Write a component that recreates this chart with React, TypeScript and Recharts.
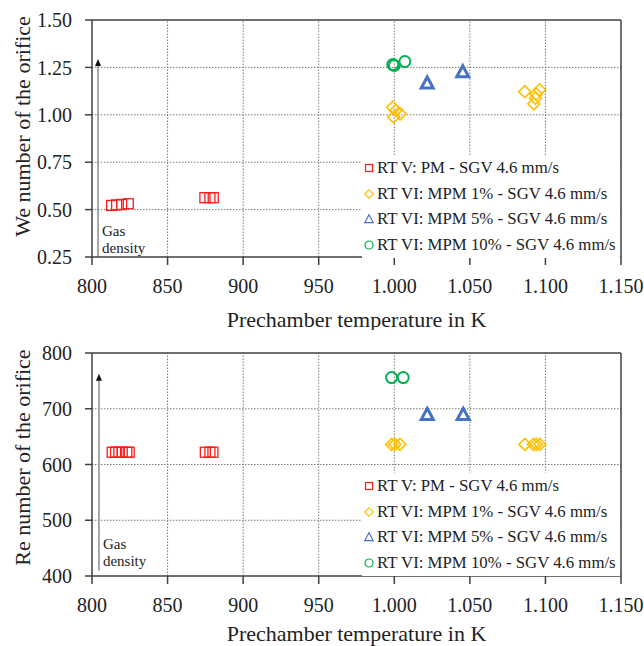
import React from "react";
import {
  Label,
  Legend,
  ReferenceLine,
  Scatter,
  ScatterChart,
  XAxis,
  YAxis,
} from "recharts";

// Prechamber temperature (K) and dimensionless numbers.
const tempTicks = [800, 850, 900, 950, 1000, 1050, 1100, 1150];
const weTicks = [0.25, 0.5, 0.75, 1.0, 1.25, 1.5];
const reTicks = [400, 500, 600, 700, 800];

// We number (top panel)
const weRtVT = [813, 816.3, 819.6, 824, 874.7, 878, 880.2];
const weRtV = [0.522, 0.525, 0.527, 0.531, 0.563, 0.563, 0.563];
const weMpm1T = [998.9, 1001, 1003.9, 999.6, 1086.3, 1096.1, 1093.9, 1093.4, 1092.3];
const weMpm1 = [1.04, 1.023, 1.005, 0.988, 1.122, 1.132, 1.11, 1.087, 1.058];
const weMpm5T = [1021.8, 1045.3];
const weMpm5 = [1.168, 1.227];
const weMpm10T = [999, 1000, 1007];
const weMpm10 = [1.265, 1.26, 1.281];

// Re number (bottom panel)
const reRtVT = [813.4, 815.6, 817.8, 820, 823, 824.6, 875, 878, 880];
const reRtV = [622, 622, 622, 622, 622, 622, 622, 622, 622];
const reMpm1T = [998.2, 1000.4, 1003.7, 1086.4, 1092, 1094, 1096.3];
const reMpm1 = [636, 636, 636, 636, 636, 636, 636];
const reMpm5T = [1021.8, 1045.6];
const reMpm5 = [690, 690];
const reMpm10T = [998.2, 1005.9];
const reMpm10 = [756, 756];

const seriesNames = [
  "RT V: PM - SGV 4.6 mm/s",
  "RT VI: MPM 1% - SGV 4.6 mm/s",
  "RT VI: MPM 5% - SGV 4.6 mm/s",
  "RT VI: MPM 10% - SGV 4.6 mm/s",
];
const seriesColors = ["#ff1a1a", "#ffc000", "#4472c4", "#00b050"];
const markerKinds = ["square", "diamond", "triangle", "circle"];

const zip = (xs: number[], ys: number[]) => xs.map((x, i) => ({ x, y: ys[i] }));

const FONT = "'Liberation Serif', 'Times New Roman', serif";
const AXIS = "#404040";
const TEXT = "#222";
const GRID = "#7a7a7a";

const fmtTemp = (v: number) =>
  v >= 1000 ? `${Math.floor(v / 1000)}.${String(v % 1000).padStart(3, "0")}` : String(v);

function Marker({ kind, cx, cy, color, small }: any) {
  const s = small ? 0.7 : 1;
  if (kind === "square") {
    const h = 5 * s;
    return <rect x={cx - h} y={cy - h} width={2 * h} height={2 * h} fill="none" stroke={color} strokeWidth={small ? 1.2 : 1.3} />;
  }
  if (kind === "diamond") {
    const h = 6 * s;
    return (
      <polygon
        points={`${cx},${cy - h} ${cx + h},${cy} ${cx},${cy + h} ${cx - h},${cy}`}
        fill="none"
        stroke={color}
        strokeWidth={small ? 1.2 : 1.6}
      />
    );
  }
  if (kind === "triangle") {
    const h = 6 * s;
    return (
      <polygon
        points={`${cx},${cy - h} ${cx + h},${cy + h * 0.85} ${cx - h},${cy + h * 0.85}`}
        fill="none"
        stroke={color}
        strokeWidth={small ? 1.2 : 3}
      />
    );
  }
  return <circle cx={cx} cy={cy} r={small ? 4 : 5.5} fill="none" stroke={color} strokeWidth={small ? 1.2 : 2} />;
}

function LegendBox() {
  return (
    <div style={{ background: "#fff", fontFamily: FONT, fontSize: 16.8, color: TEXT }}>
      {seriesNames.map((n, i) => (
        <div key={n} style={{ display: "flex", alignItems: "center", height: 25.7, whiteSpace: "nowrap" }}>
          <svg width={14} height={14} style={{ marginRight: 1 }}>
            <Marker kind={markerKinds[i]} cx={7} cy={7} color={seriesColors[i]} small />
          </svg>
          <span>{n}</span>
        </div>
      ))}
    </div>
  );
}

// vertical "Gas density" arrow drawn through a reference segment
function GasArrow(props: any) {
  const { x1, y1, y2 } = props;
  const bottom = Math.max(y1, y2);
  const top = Math.min(y1, y2);
  return (
    <g>
      <line x1={x1} y1={bottom} x2={x1} y2={top + 6} stroke="#8c8c8c" strokeWidth={1.5} />
      <polygon points={`${x1},${top} ${x1 + 3},${top + 7} ${x1 - 3},${top + 7}`} fill="#111" />
      <text x={x1 + 4} y={bottom - 21} fontSize={15} fill={TEXT}>
        Gas
      </text>
      <text x={x1 + 4} y={bottom - 4} fontSize={15} fill={TEXT}>
        density
      </text>
    </g>
  );
}

// dotted grid line drawn by a reference line
function GridLine(props: any) {
  const { x1, y1, x2, y2 } = props;
  return <line x1={x1} y1={y1} x2={x2} y2={y2} stroke={GRID} strokeWidth={1} strokeDasharray="1.5 1.5" />;
}

function YTitle({ viewBox, value, shift }: any) {
  const cy = viewBox.y + viewBox.height / 2 + shift;
  return (
    <text
      x={22}
      y={cy}
      transform={`rotate(-90 22 ${cy})`}
      textAnchor="middle"
      dominantBaseline="central"
      fontSize={22}
      fill={TEXT}
    >
      {value}
    </text>
  );
}

function Panel({
  height,
  top,
  xHeight,
  yDomain,
  yTicks,
  yFormat,
  yTitle,
  yShift,
  xOffset,
  series,
  arrow,
  legendTop,
}: any) {
  return (
    <ScatterChart
      width={644}
      height={height}
      margin={{ top, right: 23, bottom: 0, left: 0 }}
    >
      <XAxis
        type="number"
        dataKey="x"
        domain={[800, 1150]}
        ticks={tempTicks}
        tickFormatter={fmtTemp}
        height={xHeight}
        stroke={AXIS}
        strokeWidth={1.5}
        tickSize={8}
        tickMargin={14}
        tick={{ fill: TEXT, fontSize: 20 }}
        allowDataOverflow
      >
        <Label value="Prechamber temperature in K" position="insideBottom" offset={xOffset} fontSize={22} fill={TEXT} />
      </XAxis>
      <YAxis
        type="number"
        dataKey="y"
        domain={yDomain}
        ticks={yTicks}
        tickFormatter={yFormat}
        width={92}
        stroke={AXIS}
        strokeWidth={1.5}
        tickSize={7}
        tickMargin={13}
        tick={{ fill: TEXT, fontSize: 20 }}
        allowDataOverflow
      >
        <Label content={(p: any) => <YTitle {...p} value={yTitle} shift={yShift} />} />
      </YAxis>
      {tempTicks.slice(1, -1).map((t) => (
        <ReferenceLine key={`gx${t}`} x={t} shape={(p: any) => <GridLine {...p} />} />
      ))}
      {yTicks.slice(1, -1).map((t: number) => (
        <ReferenceLine key={`gy${t}`} y={t} shape={(p: any) => <GridLine {...p} />} />
      ))}
      <ReferenceLine y={yDomain[1]} stroke={AXIS} strokeWidth={1.5} />
      <ReferenceLine x={1150} stroke={AXIS} strokeWidth={1.5} />
      <ReferenceLine segment={arrow} shape={(p: any) => <GasArrow {...p} />} />
      {series.map((d: any[], i: number) => (
        <Scatter
          key={seriesNames[i]}
          name={seriesNames[i]}
          data={d}
          fill={seriesColors[i]}
          isAnimationActive={false}
          shape={(p: any) => <Marker kind={markerKinds[i]} cx={p.cx} cy={p.cy} color={seriesColors[i]} />}
        />
      ))}
      <Legend
        layout="horizontal"
        align="center"
        verticalAlign="middle"
        content={() => <LegendBox />}
        wrapperStyle={{ left: 362, top: legendTop, width: 258 }}
      />
    </ScatterChart>
  );
}

export default function App() {
  const weSeries = [zip(weRtVT, weRtV), zip(weMpm1T, weMpm1), zip(weMpm5T, weMpm5), zip(weMpm10T, weMpm10)];
  const reSeries = [zip(reRtVT, reRtV), zip(reMpm1T, reMpm1), zip(reMpm5T, reMpm5), zip(reMpm10T, reMpm10)];
  return (
    <div
      style={{
        position: "absolute",
        left: 0,
        top: 0,
        width: 644,
        height: 646,
        background: "#fff",
        fontFamily: FONT,
      }}
    >
      <Panel
        height={330}
        top={20}
        xHeight={73}
        yDomain={[0.25, 1.5]}
        yTicks={weTicks}
        yFormat={(v: number) => v.toFixed(2)}
        yTitle="We number of the orifice"
        yShift={-12}
        xOffset={3.5}
        series={weSeries}
        arrow={[
          { x: 804, y: 0.25 },
          { x: 804, y: 1.294 },
        ]}
        legendTop={155}
      />
      <Panel
        height={316}
        top={23}
        xHeight={70}
        yDomain={[400, 800]}
        yTicks={reTicks}
        yFormat={(v: number) => String(v)}
        yTitle="Re number of the orifice"
        yShift={-7}
        xOffset={5}
        series={reSeries}
        arrow={[
          { x: 804.6, y: 410 },
          { x: 804.6, y: 763 },
        ]}
        legendTop={143}
      />
    </div>
  );
}
